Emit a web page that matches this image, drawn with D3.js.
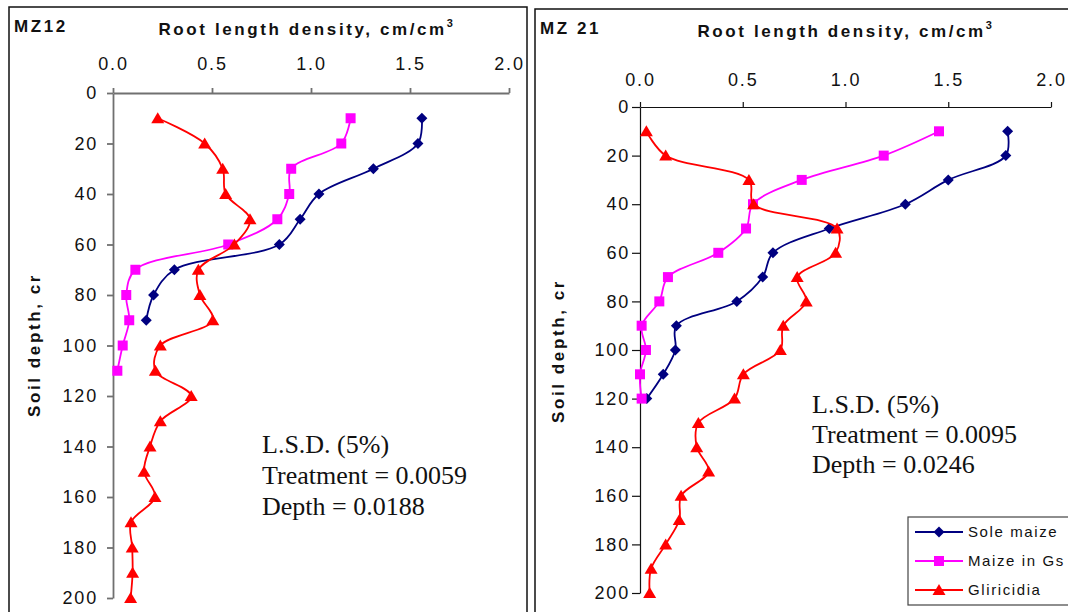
<!DOCTYPE html>
<html lang="en">
<head>
<meta charset="utf-8">
<title>Root length density by soil depth</title>
<script src="https://cdn.jsdelivr.net/npm/d3@7"></script>
<style>
	body { margin: 0; background: white; }
	svg { display: block; font-family: Arial, "Liberation Sans", sans-serif; }
	.tick text { font-size: 18px; letter-spacing: 1.8px; fill: #111; }
	.ttl { font-size: 17px; font-weight: bold; letter-spacing: 2.6px; fill: #111; }
	.lsd { font-family: "Liberation Serif", "Times New Roman", serif; font-size: 26px; fill: #111; }
	.leg { font-size: 15px; letter-spacing: 1.6px; fill: #111; }
</style>
</head>
<body>
<svg id="chart" width="1068" height="612"></svg>
<script>
// sampling depths, cm (every series starts at 10 and goes as far as its array)
var depths = [10, 20, 30, 40, 50, 60, 70, 80, 90, 100, 110, 120, 130, 140, 150, 160, 170, 180, 190, 200]
var xTicks = [0, 0.5, 1, 1.5, 2]
var yTicks = [0, 20, 40, 60, 80, 100, 120, 140, 160, 180, 200]
var seriesNames = ["Sole maize", "Maize in Gs", "Gliricidia"]

// MZ12, root length density cm/cm3
var mz12Sole = [1.56, 1.54, 1.315, 1.04, 0.945, 0.84, 0.31, 0.205, 0.168]
var mz12Gs = [1.2, 1.153, 0.9, 0.89, 0.83, 0.582, 0.113, 0.067, 0.082, 0.049, 0.022]
var mz12Glir = [0.226, 0.463, 0.554, 0.569, 0.692, 0.613, 0.431, 0.439, 0.504, 0.239,
	0.214, 0.395, 0.239, 0.187, 0.157, 0.212, 0.091, 0.097, 0.099, 0.089]
var mz12Lsd = ["L.S.D. (5%)", "Treatment = 0.0059", "Depth = 0.0188"]

// MZ 21
var mz21Sole = [1.789, 1.78, 1.5, 1.291, 0.921, 0.647, 0.597, 0.471, 0.177, 0.172, 0.113, 0.033]
var mz21Gs = [1.455, 1.186, 0.787, 0.55, 0.516, 0.381, 0.136, 0.094, 0.008, 0.029, 0.0, 0.008]
var mz21Glir = [0.031, 0.125, 0.53, 0.553, 0.959, 0.952, 0.765, 0.809, 0.697, 0.683,
	0.503, 0.46, 0.284, 0.276, 0.334, 0.2, 0.191, 0.125, 0.054, 0.047]
var mz21Lsd = ["L.S.D. (5%)", "Treatment = 0.0095", "Depth = 0.0246"]

//look of each series, same order as seriesNames
var colors = ["#000080", "#ff00ff", "#ff0000"]
var markers = [
	"M0,-5.5L5.5,0L0,5.5L-5.5,0Z",	//diamond
	"M-5,-5H5V5H-5Z",				//square
	"M0,-6L6.5,5L-6.5,5Z"			//triangle
]

var svg = d3.select("#chart")

function drawPanel(p) {
	var g = svg.append("g")
	g.append("rect").attr("x", p.frame[0]).attr("y", p.frame[1])
		.attr("width", p.frame[2]).attr("height", p.frame[3])
		.attr("fill", "white").attr("stroke", "#111").attr("stroke-width", 1.5)

	var x = d3.scaleLinear().domain([0, 2]).range(p.xr)
	var y = d3.scaleLinear().domain([0, 200]).range(p.yr)

	var xa = g.append("g").attr("transform", "translate(0," + p.yr[0] + ")")
		.call(d3.axisTop(x).tickValues(xTicks).tickFormat(d3.format(".1f"))
			.tickSize(5).tickSizeOuter(0).tickPadding(p.xPad))
	var ya = g.append("g").attr("transform", "translate(" + p.xr[0] + ",0)")
		.call(d3.axisLeft(y).tickValues(yTicks).tickSize(p.yTick).tickSizeOuter(0).tickPadding(p.yPad))
	;[xa, ya].forEach(function(a) {
		a.selectAll("path,line").attr("stroke", p.axisColor).attr("stroke-width", p.axisWidth)
		a.selectAll("text").attr("font-family", null).attr("font-size", null)
	})

	//headings
	var t = g.append("text").attr("class", "ttl").attr("x", p.titleX).attr("y", p.titleY)
		.attr("text-anchor", "middle")
	t.append("tspan").text("Root length density, cm/cm")
	t.append("tspan").attr("dy", -8).attr("font-size", 11).text("3")
	g.append("text").attr("class", "ttl").attr("x", p.nameX).attr("y", p.nameY).text(p.name)
	g.append("text").attr("class", "ttl").attr("text-anchor", "middle")
		.attr("transform", "translate(" + p.yLab[0] + "," + p.yLab[1] + ") rotate(-90)")
		.text("Soil depth, cr")

	//L.S.D. note
	g.selectAll(".lsd").data(p.lsd).enter().append("text").attr("class", "lsd")
		.attr("x", p.lsdX).attr("y", function(d, i) { return p.lsdY + i * p.lsdStep })
		.text(function(d) { return d })

	var line = d3.line()
		.x(function(d) { return x(d.v) })
		.y(function(d) { return y(d.d) })
		.curve(d3.curveCatmullRom.alpha(0.5))

	p.series.forEach(function(vals, k) {
		var pts = vals.map(function(v, i) { return {v: v, d: depths[i]} })
		g.append("path").datum(pts).attr("d", line)
			.attr("fill", "none").attr("stroke", colors[k]).attr("stroke-width", 1.8)
		g.selectAll(".m" + k).data(pts).enter().append("path").attr("class", "m" + k)
			.attr("transform", function(d) { return "translate(" + x(d.v) + "," + y(d.d) + ")" })
			.attr("d", markers[k]).attr("fill", colors[k])
	})
}

drawPanel({
	name: "MZ12", frame: [9, 7, 518, 620],
	xr: [113, 509], yr: [93, 598], xPad: 18, yTick: 6, yPad: 9,
	axisColor: "#707070", axisWidth: 1.8,
	titleX: 307, titleY: 35, nameX: 14, nameY: 32, yLab: [40, 345],
	lsd: mz12Lsd, lsdX: 262, lsdY: 453, lsdStep: 31,
	series: [mz12Sole, mz12Gs, mz12Glir]
})
drawPanel({
	name: "MZ 21", frame: [535, 9, 560, 620],
	xr: [640, 1051], yr: [107, 593], xPad: 16, yTick: 8, yPad: 2,
	axisColor: "#111", axisWidth: 1.2,
	titleX: 846, titleY: 37, nameX: 540, nameY: 34, yLab: [564, 351],
	lsd: mz21Lsd, lsdX: 812, lsdY: 413, lsdStep: 30,
	series: [mz21Sole, mz21Gs, mz21Glir]
})

//legend, inside the MZ 21 panel
var leg = svg.append("g").attr("transform", "translate(908,517)")
leg.append("rect").attr("width", 170).attr("height", 88)
	.attr("fill", "white").attr("stroke", "#444").attr("stroke-width", 1.2)
seriesNames.forEach(function(s, k) {
	var ly = 15 + k * 29
	leg.append("line").attr("x1", 7).attr("x2", 55).attr("y1", ly).attr("y2", ly)
		.attr("stroke", colors[k]).attr("stroke-width", 1.8)
	leg.append("path").attr("transform", "translate(31," + ly + ")").attr("d", markers[k]).attr("fill", colors[k])
	leg.append("text").attr("class", "leg").attr("x", 60).attr("y", ly + 5).text(s)
})
</script>
</body>
</html>
